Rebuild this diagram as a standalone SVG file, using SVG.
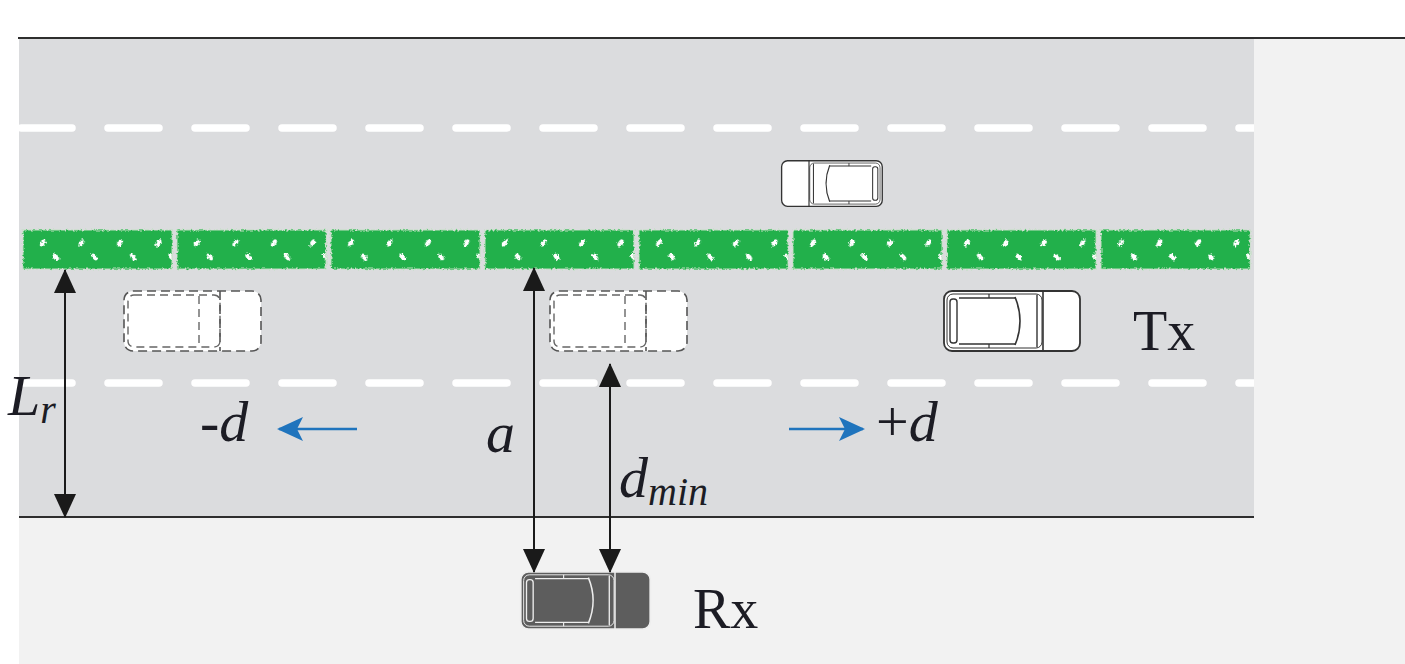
<svg xmlns="http://www.w3.org/2000/svg" width="1405" height="664" viewBox="0 0 1405 664">
  <style>
    .edge { stroke: #2e2e2e; stroke-width: 2; fill: none; }
    .lane { stroke: #ffffff; stroke-width: 7.5; stroke-linecap: round; stroke-dasharray: 51 36; fill: none; }
    .dim { stroke: #1a1a1a; stroke-width: 2; fill: none; }
    .move { stroke: #1f74bd; stroke-width: 2.5; fill: none; }
    .lbl { font-family: "Liberation Serif", "Times New Roman", serif; fill: #1c1c24; }
    .it { font-style: italic; }
    .bodyfill { fill: currentColor; }
  </style>
  <defs>
    <clipPath id="roadClip"><rect x="19" y="39" width="1235" height="478"/></clipPath>
    <marker id="headBlack" viewBox="0 0 24 24" markerWidth="24" markerHeight="24" refX="23" refY="12" orient="auto-start-reverse" markerUnits="userSpaceOnUse">
      <path d="M0 1 L24 12 L0 23 Z" fill="#1a1a1a"/>
    </marker>
    <marker id="headBlue" viewBox="0 0 26 26" markerWidth="26" markerHeight="26" refX="24" refY="13" orient="auto" markerUnits="userSpaceOnUse">
      <path d="M0 1 L26 13 L0 25 L6 13 Z" fill="#1f74bd"/>
    </marker>
    <filter id="rough" x="-2%" y="-20%" width="104%" height="140%">
      <feTurbulence type="fractalNoise" baseFrequency="0.45" numOctaves="2" seed="3" result="n"/>
      <feDisplacementMap in="SourceGraphic" in2="n" scale="4" xChannelSelector="R" yChannelSelector="G"/>
    </filter>
    <pattern id="speckle" patternUnits="userSpaceOnUse" x="24" y="230" width="38.5" height="40">
      <rect width="38.5" height="40" fill="#22b04c"/>
      <ellipse cx="19" cy="13" rx="2.2" ry="4" transform="rotate(35 19 13)" fill="#ffffff"/>
      <ellipse cx="32" cy="27" rx="2.2" ry="4" transform="rotate(-40 32 27)" fill="#ffffff"/>
    </pattern>
    <!-- car seen from above, cab on the left and box on the right -->
    <symbol id="car" viewBox="0 0 138 62" overflow="visible">
      <rect class="bodyfill" x="1" y="1" width="136" height="60" rx="8" stroke-width="1.8"/>
      <rect x="4" y="4" width="95" height="54" rx="6" fill="none" stroke-width="1"/>
      <line x1="100" y1="1" x2="100" y2="61" stroke-width="1.6"/>
      <rect x="7" y="9" width="7" height="44" rx="3" fill="none" stroke-width="1.4"/>
      <path d="M16 8 H72 M16 54 H72" fill="none" stroke-width="1.4"/>
      <path d="M72 7 Q82 31 72 55" fill="none" stroke-width="1.6"/>
      <path d="M94 5 V57" fill="none" stroke-width="1.4"/>
      <path d="M46 4 V8 M46 54 V58" fill="none" stroke-width="1.2"/>
    </symbol>
    <!-- outline of a previous car position -->
    <symbol id="ghost" viewBox="0 0 139 62" overflow="visible">
      <rect x="1" y="1" width="137" height="60" rx="9" fill="#ffffff" stroke="#555" stroke-width="1.6" stroke-dasharray="9 5"/>
      <rect x="5" y="5" width="92" height="52" rx="6" fill="none" stroke="#666" stroke-width="1.4" stroke-dasharray="8 5"/>
      <path d="M76 6 V56" fill="none" stroke="#666" stroke-width="1.4" stroke-dasharray="8 5"/>
      <path d="M97 1 V61" fill="none" stroke="#555" stroke-width="1.6" stroke-dasharray="9 5"/>
    </symbol>
  </defs>

  <!-- ground -->
  <rect x="0" y="0" width="1405" height="664" fill="#ffffff"/>
  <rect x="19" y="39" width="1386" height="625" fill="#f2f2f2"/>
  <rect id="road" x="19" y="39" width="1235" height="478" fill="#dbdcde"/>

  <!-- lane markings -->
  <g id="lanes" clip-path="url(#roadClip)">
    <line class="lane" x1="21" y1="128" x2="1300" y2="128"/>
    <line class="lane" x1="21" y1="383" x2="1300" y2="383"/>
  </g>

  <!-- road edges -->
  <line class="edge" x1="18" y1="38" x2="1405" y2="38"/>
  <line class="edge" x1="19" y1="517" x2="1254" y2="517"/>

  <!-- median hedge -->
  <g id="hedge" filter="url(#rough)" fill="url(#speckle)" stroke="#bfe0bf" stroke-width="1">
    <rect x="23" y="230" width="149" height="39"/>
    <rect x="177" y="230" width="149" height="39"/>
    <rect x="331" y="230" width="149" height="39"/>
    <rect x="485" y="230" width="149" height="39"/>
    <rect x="639" y="230" width="149" height="39"/>
    <rect x="793" y="230" width="149" height="39"/>
    <rect x="947" y="230" width="149" height="39"/>
    <rect x="1101" y="230" width="149" height="39"/>
  </g>

  <!-- vehicles -->
  <g id="car-top">
    <use href="#car" transform="translate(883,160) scale(-0.74,0.76)" width="138" height="62" style="color:#ffffff" stroke="#333333"/>
  </g>
  <g id="ghost-left">
    <use href="#ghost" x="123" y="290" width="139" height="62"/>
  </g>
  <g id="ghost-mid">
    <use href="#ghost" x="549" y="290" width="139" height="62"/>
  </g>
  <g id="tx">
    <use href="#car" x="943" y="290" width="138" height="62" style="color:#ffffff" stroke="#333333"/>
    <text class="lbl" x="1133" y="350" font-size="56">Tx</text>
  </g>
  <g id="rx">
    <use href="#car" x="518" y="571" width="135" height="59" style="color:#5d5d5d" stroke="#eeeeee"/>
    <text class="lbl" x="693" y="628" font-size="56">Rx</text>
  </g>

  <!-- dimensions and motion -->
  <g id="connectors">
    <line class="dim" x1="65" y1="270" x2="65" y2="517" marker-start="url(#headBlack)" marker-end="url(#headBlack)"/>
    <line class="dim" x1="534" y1="268" x2="534" y2="572" marker-start="url(#headBlack)" marker-end="url(#headBlack)"/>
    <line class="dim" x1="610" y1="364" x2="610" y2="572" marker-start="url(#headBlack)" marker-end="url(#headBlack)"/>
    <line class="move" x1="357" y1="429" x2="279" y2="429" marker-end="url(#headBlue)"/>
    <line class="move" x1="789" y1="429" x2="863" y2="429" marker-end="url(#headBlue)"/>
  </g>

  <!-- labels -->
  <g id="labels">
    <text class="lbl it" x="8" y="415" font-size="58">L<tspan font-size="40" dy="8">r</tspan></text>
    <text class="lbl it" x="200" y="441" font-size="58">-d</text>
    <text class="lbl" x="876" y="441" font-size="58">+<tspan class="it">d</tspan></text>
    <text class="lbl it" x="486" y="452" font-size="58">a</text>
    <text class="lbl it" x="619" y="497" font-size="58">d<tspan font-size="40" dy="8">min</tspan></text>
  </g>
</svg>
